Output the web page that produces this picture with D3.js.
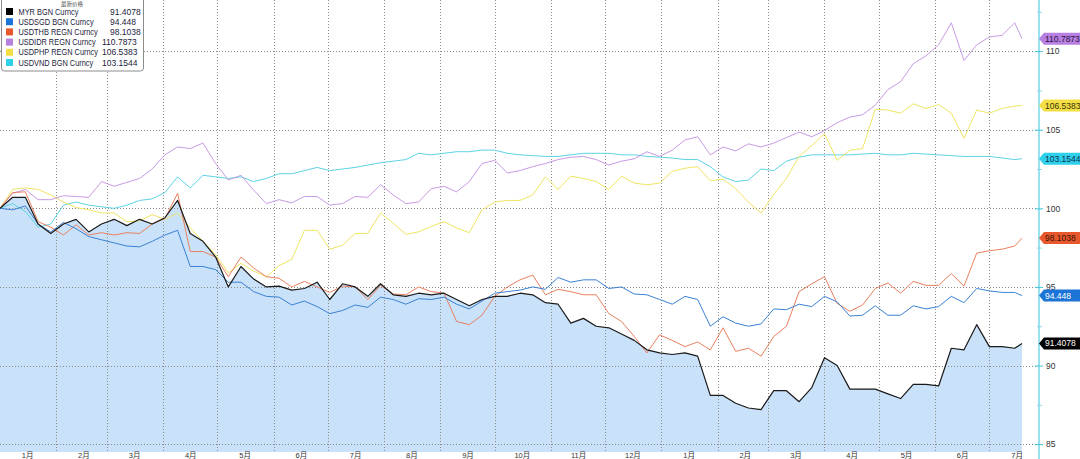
<!DOCTYPE html>
<html>
<head>
<meta charset="utf-8">
<script src="https://cdn.jsdelivr.net/npm/d3@7"></script>
<style>
body { margin: 0; background: #fff; }
svg { display: block; font-family: "Liberation Sans", Arial, sans-serif; }
</style>
</head>
<body>
<svg id="chart" width="1080" height="459"></svg>
<script>
var dates = [
    "2018-01-01", "2018-01-08", "2018-01-15", "2018-01-22", "2018-01-29",
    "2018-02-05", "2018-02-12", "2018-02-19", "2018-02-26",
    "2018-03-05", "2018-03-12", "2018-03-19", "2018-03-26",
    "2018-04-02", "2018-04-09", "2018-04-16", "2018-04-23", "2018-04-30",
    "2018-05-07", "2018-05-14", "2018-05-21", "2018-05-28",
    "2018-06-04", "2018-06-11", "2018-06-18", "2018-06-25",
    "2018-07-02", "2018-07-09", "2018-07-16", "2018-07-23", "2018-07-30",
    "2018-08-06", "2018-08-13", "2018-08-20", "2018-08-27",
    "2018-09-03", "2018-09-10", "2018-09-17", "2018-09-24",
    "2018-10-01", "2018-10-08", "2018-10-15", "2018-10-22", "2018-10-29",
    "2018-11-05", "2018-11-12", "2018-11-19", "2018-11-26",
    "2018-12-03", "2018-12-10", "2018-12-17", "2018-12-24", "2018-12-31",
    "2019-01-07", "2019-01-14", "2019-01-21", "2019-01-28",
    "2019-02-04", "2019-02-11", "2019-02-18", "2019-02-25",
    "2019-03-04", "2019-03-11", "2019-03-18", "2019-03-25",
    "2019-04-01", "2019-04-08", "2019-04-15", "2019-04-22", "2019-04-29",
    "2019-05-06", "2019-05-13", "2019-05-20", "2019-05-27",
    "2019-06-03", "2019-06-10", "2019-06-17", "2019-06-24",
    "2019-07-01", "2019-07-08", "2019-07-15", "2019-07-19"
];

var myr = [100.0, 100.7, 100.7, 99.0, 98.4, 99.0, 99.3, 98.5, 99.0, 99.3, 98.9, 99.3, 99.0,
    99.4, 100.5, 98.4, 97.9, 96.9, 95.0, 96.3, 95.5, 95.0, 95.05, 94.8, 94.9, 95.3,
    94.2, 95.2, 95.0, 94.4, 95.2, 94.5, 94.4, 94.6, 94.5, 94.6, 94.2, 93.8, 94.2,
    94.4, 94.4, 94.6, 94.5, 94.0, 93.9, 92.7, 93.0, 92.5, 92.4, 92.0, 91.6, 91.0, 90.8,
    90.7, 90.8, 90.6, 88.1, 88.1, 87.6, 87.3, 87.2, 88.4, 88.4, 87.7, 88.6,
    90.5, 90.0, 88.5, 88.5, 88.5, 88.2, 87.9, 88.8, 88.8, 88.7, 91.1, 91.0, 92.6,
    91.2, 91.2, 91.1, 91.4078];

var sgd = [100.0, 99.9, 100.15, 99.0, 98.5, 99.1, 98.7, 98.2, 98.0, 97.8, 97.6, 97.55, 97.9,
    98.3, 98.6, 96.3, 96.3, 96.1, 95.3, 95.3, 94.7, 94.4, 94.35, 93.85, 94.1, 93.75,
    93.3, 93.5, 93.85, 93.7, 94.35, 94.2, 93.9, 94.25, 94.2, 94.35, 93.9, 93.6, 94.1,
    94.6, 94.7, 94.8, 95.0, 94.85, 95.6, 95.3, 95.45, 95.45, 94.9, 95.0, 94.55, 94.5, 94.2,
    93.9, 94.4, 94.2, 92.5, 93.1, 92.7, 92.5, 92.65, 93.6, 93.55, 93.9, 93.75,
    94.4, 94.05, 93.15, 93.2, 93.8, 93.2, 93.2, 93.8, 93.6, 93.75, 94.4, 94.0, 94.9,
    94.75, 94.65, 94.65, 94.448];

var thb = [100.0, 101.0, 101.05, 99.15, 98.8, 98.3, 98.95, 98.3, 98.45, 98.3, 98.45, 98.4, 99.0,
    99.35, 100.95, 97.25, 97.25, 96.9, 95.65, 96.9, 96.2, 95.65, 95.55, 95.0, 95.35, 95.0,
    94.65, 95.05, 95.0, 94.2, 95.1, 94.55, 94.5, 95.0, 94.7, 94.6, 92.8, 92.6, 93.2,
    94.4, 95.0, 95.45, 95.75, 94.5, 94.85, 94.7, 94.5, 94.5, 93.3, 92.8, 91.85, 90.8, 91.95,
    91.6, 91.2, 91.5, 91.0, 92.4, 90.9, 91.1, 90.6, 91.85, 92.5, 94.7, 95.2,
    95.65, 93.95, 93.45, 93.85, 94.9, 95.25, 94.6, 95.35, 95.1, 95.1, 95.85, 95.05, 97.15,
    97.3, 97.4, 97.6, 98.1038];

var idr = [100.0, 100.95, 101.2, 100.55, 100.55, 100.8, 100.75, 100.7, 101.7, 101.4, 101.65, 101.9, 102.5,
    103.4, 103.9, 103.8, 104.15, 102.85, 101.8, 102.1, 101.15, 100.3, 100.55, 100.35, 100.75, 100.75,
    100.2, 100.3, 100.75, 100.7, 101.5, 100.85, 100.3, 100.4, 101.25, 101.4, 101.05, 101.7, 102.85,
    103.05, 102.25, 102.4, 102.65, 102.85, 103.1, 103.25, 103.3, 103.1, 102.75, 103.0, 103.15, 103.6, 103.3,
    103.7, 104.35, 104.55, 103.4, 103.9, 103.65, 104.1, 103.9, 104.15, 104.5, 104.85, 104.55,
    104.95, 105.45, 105.8, 105.95, 106.55, 107.55, 108.05, 109.2, 109.7, 110.4, 111.8, 109.4, 110.4,
    110.9, 111.0, 111.8, 110.7873];

var php = [100.0, 101.2, 101.3, 101.2, 100.85, 100.4, 100.05, 99.9, 99.7, 99.7, 99.15, 99.2, 99.6,
    99.3, 99.7, 98.75, 97.9, 97.05, 95.9, 96.5, 96.0, 95.65, 96.35, 96.75, 98.6, 98.6,
    97.4, 97.65, 98.4, 98.4, 99.7, 99.05, 98.35, 98.5, 98.85, 99.15, 98.75, 98.45, 99.9,
    100.4, 100.5, 100.5, 100.85, 102.0, 101.2, 102.05, 101.9, 101.7, 101.2, 102.05, 101.6, 101.5, 101.6,
    102.35, 102.55, 102.65, 101.75, 101.85, 101.25, 100.4, 99.7, 100.9, 101.9, 103.3, 104.0,
    104.75, 103.05, 103.7, 103.8, 106.3, 106.25, 106.05, 106.65, 106.35, 106.6, 106.05, 104.45, 106.25,
    106.05, 106.35, 106.5, 106.5383];

var vnd = [100.0, 100.3, 99.8, 98.8, 99.0, 100.2, 100.4, 100.2, 100.1, 100.0, 100.2, 100.5, 100.6,
    101.0, 102.0, 101.3, 102.1, 102.0, 101.9, 102.0, 101.7, 101.9, 102.2, 102.2, 102.4, 102.6,
    102.4, 102.5, 102.6, 102.75, 102.9, 103.0, 103.1, 103.5, 103.4, 103.5, 103.6, 103.6, 103.7,
    103.7, 103.5, 103.4, 103.35, 103.3, 103.3, 103.4, 103.5, 103.5, 103.5, 103.4, 103.4, 103.3, 103.25,
    103.2, 103.1, 103.1, 102.65, 102.0, 101.7, 101.8, 102.5, 102.4, 103.0, 103.25, 103.4,
    103.4, 103.4, 103.4, 103.45, 103.5, 103.4, 103.4, 103.5, 103.45, 103.4, 103.35, 103.3, 103.3,
    103.3, 103.2, 103.1, 103.1544];

var seriesNames = ["MYR BGN Curncy", "USDSGD BGN Curncy", "USDTHB REGN Curncy",
    "USDIDR REGN Curncy", "USDPHP REGN Curncy", "USDVND BGN Curncy"];
var lastLabels = ["91.4078", "94.448", "98.1038", "110.7873", "106.5383", "103.1544"];
var monthLabels = ["1月", "2月", "3月", "4月", "5月", "6月", "7月", "8月", "9月", "10月",
    "11月", "12月", "1月", "2月", "3月", "4月", "5月", "6月", "7月"];
var yTicks = [85, 90, 95, 100, 105, 110];
var yMinorTicks = [87.5, 92.5, 97.5, 102.5, 107.5, 112.5];
var legendTitle = "最新价格";

var width = 1080,
    height = 459,
    plotRight = 1022,
    axisX = 1039,
    plotBottom = 452;

var swatchColors = ["#000000", "#1b74d6", "#e8582c", "#b67fe0", "#f3df45", "#2ed0ea"];
var lineColors = ["#1a1a1a", "#3b82d4", "#e9805e", "#c89be4", "#efe564", "#5cd3e4"];
var flagText = ["#ffffff", "#ffffff", "#3a1206", "#2c1246", "#3a3408", "#0e2f52"];

var parseDate = d3.timeParse("%Y-%m-%d");
var dateObjs = dates.map(parseDate);

var xScale = d3.scaleTime()
    .domain([dateObjs[0], dateObjs[dateObjs.length - 1]])
    .range([0, plotRight]);

var yScale = d3.scaleLinear()
    .domain([84.5, 113.25])
    .range([plotBottom, 0]);

var allSeries = [myr, sgd, thb, idr, php, vnd].map(function(vals, i) {
    return {
        name: seriesNames[i],
        label: lastLabels[i],
        values: vals.map(function(v, j) { return {date: dateObjs[j], value: v}; })
    };
});

var svg = d3.select("#chart");

drawArea(allSeries[0]);
drawGrid();
drawLines();
drawAxes();
drawFlags();
drawLegend();

function drawArea(s) {
    var area = d3.area()
        .x(function(d) { return xScale(d.date); })
        .y0(plotBottom)
        .y1(function(d) { return yScale(d.value); });

    svg.append("path")
        .datum(s.values)
        .attr("fill", "#c9e1f9")
        .attr("d", area);
}

function drawGrid() {
    var grid = svg.append("g")
        .attr("stroke", "#8a8a8a")
        .attr("stroke-width", 1)
        .attr("stroke-dasharray", "1,2");

    grid.selectAll(".hgrid")
        .data(yTicks)
        .enter()
        .append("line")
        .attr("class", "hgrid")
        .attr("x1", 0)
        .attr("x2", axisX)
        .attr("y1", function(d) { return Math.round(yScale(d)) + 0.5; })
        .attr("y2", function(d) { return Math.round(yScale(d)) + 0.5; });

    var monthStarts = d3.timeMonth.range(d3.timeMonth.ceil(d3.timeDay.offset(dateObjs[0], 1)), dateObjs[dateObjs.length - 1]);

    grid.selectAll(".vgrid")
        .data(monthStarts)
        .enter()
        .append("line")
        .attr("class", "vgrid")
        .attr("y1", 0)
        .attr("y2", plotBottom)
        .attr("x1", function(d) { return Math.round(xScale(d)) + 0.5; })
        .attr("x2", function(d) { return Math.round(xScale(d)) + 0.5; });
}

function drawLines() {
    var line = d3.line()
        .x(function(d) { return xScale(d.date); })
        .y(function(d) { return yScale(d.value); });

    // first series ends up on top
    var order = allSeries.map(function(d, i) { return i; }).reverse();

    svg.selectAll(".serie")
        .data(order)
        .enter()
        .append("path")
        .attr("class", "serie")
        .attr("fill", "none")
        .attr("stroke", function(i) { return lineColors[i]; })
        .attr("stroke-width", function(i) { return i === 0 ? 1.2 : 1; })
        .attr("stroke-linejoin", "round")
        .attr("d", function(i) { return line(allSeries[i].values); });
}

function drawAxes() {
    // month labels sit in the middle of each month
    var midMonths = d3.timeMonth.range(dateObjs[0], d3.timeMonth.ceil(dateObjs[dateObjs.length - 1]))
        .map(function(d) { return d3.timeDay.offset(d, 15); });

    var xAxis = d3.axisBottom(xScale)
        .tickValues(midMonths)
        .tickSize(0)
        .tickPadding(0)
        .tickFormat(function(d, i) { return monthLabels[i]; });

    var gx = svg.append("g")
        .attr("transform", "translate(0," + plotBottom + ")")
        .call(xAxis);
    gx.select(".domain").remove();
    gx.selectAll("text")
        .attr("y", 5.8)
        .attr("dy", 0)
        .attr("fill", "#333")
        .style("font-size", "7.5px")
        .style("font-family", "'Liberation Sans', 'Noto Sans CJK SC', sans-serif");

    svg.append("line")
        .attr("x1", axisX)
        .attr("x2", axisX)
        .attr("y1", 0)
        .attr("y2", height)
        .attr("stroke", "#97e2ee")
        .attr("stroke-width", 2);

    var yMinor = d3.axisRight(yScale)
        .tickValues(yMinorTicks)
        .tickSize(3)
        .tickFormat("");

    var gm = svg.append("g")
        .attr("transform", "translate(" + axisX + ",0)")
        .call(yMinor);
    gm.select(".domain").remove();
    gm.selectAll("line").attr("stroke", "#8fd8e4").attr("x1", -2);

    var yAxis = d3.axisRight(yScale)
        .tickValues(yTicks)
        .tickSize(4)
        .tickPadding(3)
        .tickFormat(d3.format("d"));

    var gy = svg.append("g")
        .attr("transform", "translate(" + axisX + ",0)")
        .call(yAxis);
    gy.select(".domain").remove();
    gy.selectAll("line").attr("stroke", "#3fc6da").attr("x1", -4);
    gy.selectAll("text")
        .attr("fill", "#333")
        .style("font-size", "8.5px");
}

function drawFlags() {
    var flags = svg.selectAll(".flag")
        .data(allSeries)
        .enter()
        .append("g")
        .attr("class", "flag")
        .attr("transform", function(d) {
            return "translate(" + axisX + "," + yScale(+d.label) + ")";
        });

    flags.append("path")
        .attr("d", "M0,0 L5,-6 L45,-6 L45,6 L5,6 Z")
        .attr("fill", function(d, i) { return swatchColors[i]; });

    flags.append("text")
        .attr("x", 6)
        .attr("y", 3)
        .attr("fill", function(d, i) { return flagText[i]; })
        .style("font-size", "8.5px")
        .text(function(d) { return d.label; });
}

function drawLegend() {
    var lg = svg.append("g");

    lg.append("rect")
        .attr("x", 1.5)
        .attr("y", -6)
        .attr("width", 142)
        .attr("height", 77)
        .attr("rx", 3)
        .attr("fill", "#fff")
        .attr("stroke", "#8c8c8c");

    lg.append("text")
        .attr("x", 72)
        .attr("y", 5.5)
        .attr("text-anchor", "middle")
        .attr("fill", "#444")
        .style("font-family", "'Noto Sans CJK SC', sans-serif")
        .style("font-size", "5.5px")
        .text(legendTitle);

    var rows = lg.selectAll(".row")
        .data(allSeries)
        .enter()
        .append("g")
        .attr("class", "row")
        .attr("transform", function(d, i) { return "translate(0," + (11.5 + i * 10.2) + ")"; });

    rows.append("rect")
        .attr("x", 6)
        .attr("y", -3.5)
        .attr("width", 7)
        .attr("height", 7)
        .attr("fill", function(d, i) { return swatchColors[i]; });

    rows.append("text")
        .attr("transform", "translate(18.5,3) scale(0.88,1)")
        .attr("fill", "#1c1c3c")
        .style("font-size", "8.4px")
        .text(function(d) { return d.name; });

    rows.append("text")
        .attr("x", function(d) { return +d.label >= 100 ? 102 : 110; })
        .attr("y", 3)
        .attr("fill", "#1c1c3c")
        .style("font-size", "8.5px")
        .text(function(d) { return d.label; });
}
</script>
</body>
</html>
